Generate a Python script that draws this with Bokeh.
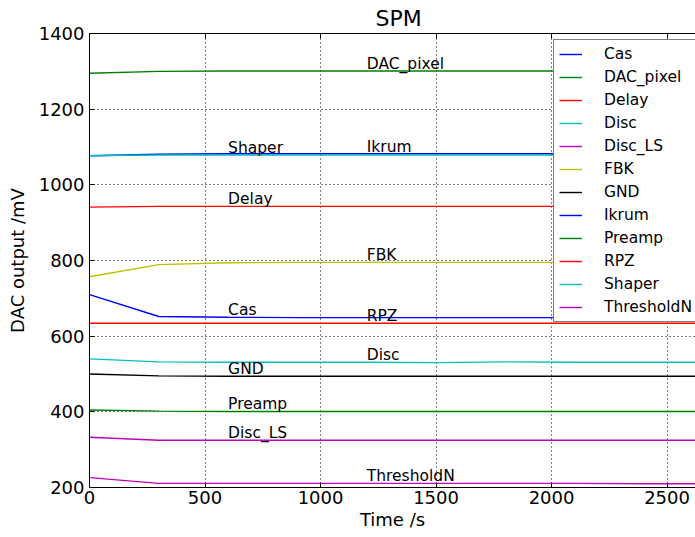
import numpy as np
from bokeh.plotting import figure
from bokeh.models import (LinearAxis, Range1d, Legend, LegendItem, SingleIntervalTicker,
                          ColumnDataSource, CustomJSTickFormatter)
from bokeh.core.properties import value
from bokeh.embed import file_html
from bokeh.resources import INLINE

time_s = [0, 300, 600, 900, 1200, 1500, 1800, 2100, 2400, 2700]

names = ["Cas", "DAC_pixel", "Delay", "Disc", "Disc_LS", "FBK", "GND",
         "Ikrum", "Preamp", "RPZ", "Shaper", "ThresholdN"]

cas        = [710, 652, 650, 649, 649, 649, 649, 649, 649, 649]
dac_pixel  = [1295, 1300, 1301, 1301, 1301, 1301, 1301, 1301, 1301, 1301]
delay      = [941, 943, 943, 943, 943, 943, 943, 943, 943, 943]
disc       = [540, 532, 531, 531, 531, 530, 532, 531, 531, 531]
disc_ls    = [333, 325, 325, 325, 325, 325, 325, 325, 325, 325]
fbk        = [757, 789, 794, 795, 795, 795, 795, 795, 795, 795]
gnd        = [500, 495, 494, 494, 494, 494, 494, 494, 494, 494]
ikrum      = [1077, 1081, 1082, 1082, 1082, 1082, 1082, 1082, 1082, 1082]
preamp     = [405, 402, 401, 401, 401, 401, 401, 401, 401, 401]
rpz        = [634, 634, 634, 634, 634, 634, 634, 634, 634, 634]
shaper     = [1077, 1079, 1079, 1079, 1079, 1079, 1079, 1079, 1079, 1079]
thresholdn = [226, 211, 211, 211, 211, 211, 211, 211, 210, 210]

series = [cas, dac_pixel, delay, disc, disc_ls, fbk, gnd, ikrum, preamp, rpz, shaper, thresholdn]
label_x = [600, 1200]

colors = ["#0000ff", "#008000", "#ff0000", "#00bfbf", "#bf00bf", "#bfbf00", "#000000"]

FONT = "DejaVu Sans"

p = figure(width=695, height=537, output_backend="svg", toolbar_location=None,
           x_range=Range1d(0, 2623), y_range=Range1d(200, 1400),
           min_border_left=89, min_border_right=0, min_border_top=33, min_border_bottom=50)
p.outline_line_color = None
p.background_fill_color = "white"
p.border_fill_color = "white"

p.title.text = "SPM"
p.title.text_font = FONT
p.title.text_font_size = "22px"
p.title.text_font_style = "normal"
p.title.text_color = "black"
p.title.align = "left"
p.title.offset = 286
p.title.standoff = 6

p.xaxis.ticker = SingleIntervalTicker(interval=500)
p.yaxis.ticker = SingleIntervalTicker(interval=200)

for ax in (p.xaxis[0], p.yaxis[0]):
    ax.major_tick_in = 5
    ax.major_tick_out = 0
    ax.minor_tick_in = 0
    ax.minor_tick_out = 0
    ax.major_label_text_font = FONT
    ax.major_label_text_font_size = "18px"
    ax.major_label_text_color = "black"
    ax.axis_label_text_font = FONT
    ax.axis_label_text_font_size = "18px"
    ax.axis_label_text_font_style = "normal"
    ax.axis_label_text_color = "black"
    ax.axis_line_color = "black"
    ax.major_tick_line_color = "black"
p.xaxis.axis_label = "Time /s"
p.yaxis.axis_label = "DAC output /mV"
p.xaxis.major_label_standoff = 3
p.yaxis.major_label_standoff = 5
p.xaxis.axis_label_standoff = 2
p.yaxis.axis_label_standoff = 8

top = LinearAxis(ticker=SingleIntervalTicker(interval=500),
                 formatter=CustomJSTickFormatter(code="return '';"))
top.major_tick_in = 5
top.major_tick_out = 0
top.minor_tick_in = 0
top.minor_tick_out = 0
top.major_label_standoff = 0
top.axis_line_color = "black"
top.major_tick_line_color = "black"
p.add_layout(top, "above")

p.grid.grid_line_color = "black"
p.grid.grid_line_alpha = 1.0
p.grid.grid_line_dash = "1 3"
p.grid.grid_line_width = 1

items = []
lx, ly, lt = [], [], []
for i, (n, s) in enumerate(zip(names, series)):
    r = p.line(time_s, s, line_color=colors[i % len(colors)], line_width=1.4)
    items.append(LegendItem(label=n, renderers=[r]))
    x0 = label_x[i % 2]
    lx.append(x0)
    ly.append(float(np.interp(x0, time_s, s)))
    lt.append(n)

src = ColumnDataSource(dict(x=lx, y=ly, t=lt))
p.text(x="x", y="y", text="t", source=src, text_font=value(FONT), text_font_size="15.5px",
       text_align="left", text_baseline="alphabetic", text_color="black", y_offset=-7)

leg = Legend(items=items, location=(464, 165))
leg.label_text_font = FONT
leg.label_text_font_size = "15.5px"
leg.label_text_color = "black"
leg.glyph_width = 23
leg.glyph_height = 18
leg.label_height = 18
leg.spacing = 5
leg.padding = 5
leg.label_standoff = 22
leg.margin = 0
leg.border_line_color = "black"
leg.border_line_width = 1
leg.background_fill_alpha = 1
p.add_layout(leg, "center")

open("out.html", "w").write(file_html(p, INLINE))
